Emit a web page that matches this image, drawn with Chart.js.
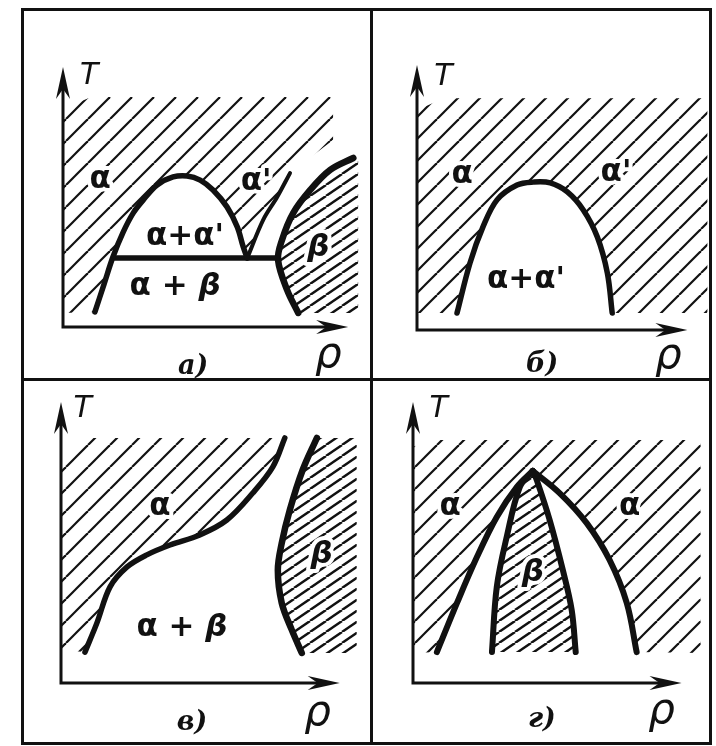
<!DOCTYPE html>
<html>
<head>
<meta charset="utf-8">
<script src="https://cdn.jsdelivr.net/npm/chart.js@4.4.1/dist/chart.umd.min.js"></script>
<style>
  body { margin: 0; background: #fff; }
  #sheet { position: relative; width: 716px; height: 746px; overflow: hidden; }
  #sheet canvas { position: absolute; }
  .frame { position: absolute; border: 3px solid #111; box-sizing: border-box; }
  .rule { position: absolute; background: #111; }
</style>
</head>
<body>
<div id="sheet">
  <canvas id="pa" width="349" height="370" style="left:22px;top:9px"></canvas>
  <canvas id="pb" width="339" height="370" style="left:371px;top:9px"></canvas>
  <canvas id="pc" width="349" height="364" style="left:22px;top:379px"></canvas>
  <canvas id="pd" width="339" height="364" style="left:371px;top:379px"></canvas>
  <div class="frame" style="left:21px;top:8px;width:691px;height:737px"></div>
  <div class="rule" style="left:370px;top:8px;width:3px;height:737px"></div>
  <div class="rule" style="left:21px;top:378px;width:691px;height:3px"></div>
</div>
<script>
// ρ runs 0..100 along each arrow, T runs 0..100 up to the arrow tip

// а) dome of α+α′ sitting on the α+β tie line, β on the right
const aDome = [[11.2, 5.8], [14.4, 16.5], [17.5, 26.9], [21.1, 36.5], [24.6, 43.8], [28.1, 48.8], [33.0, 54.6],
  [38.6, 57.7], [43.5, 58.1], [48.1, 56.5], [52.6, 52.7], [57.5, 46.2], [61.1, 38.5], [63.2, 30.8], [64.6, 26.5]];
const aTie = [[18.2, 26.5], [75.1, 26.5]];
const aPrime = [[64.6, 26.5], [70.2, 41.2], [75.1, 50.0], [79.6, 59.2]];
const aBeta = [[82.5, 5.4], [78.6, 14.2], [75.4, 25.8], [76.8, 33.5], [80.7, 43.8], [86.7, 52.7], [93.7, 60.4], [101.8, 65.0]];
const aAlphaEdge = [[0, 5.4], [0, 84], [10, 88.5], [94.7, 88.5], [94.7, 71.9]];
const aBetaEdge = [[103.5, 65.0], [103.5, 5.4]];

// б) plain α+α′ dome
const bDome = [[14.8, 6.4], [19.6, 25.3], [24.4, 38.9], [29.6, 49.1], [37.0, 54.7], [43.0, 55.8], [49.3, 55.5],
  [55.6, 52.1], [61.5, 45.3], [66.7, 35.1], [70.4, 21.5], [72.2, 6.4]];
const bAlphaEdge = [[0, 6.4], [0, 83], [10, 87.5], [107.4, 87.5], [107.4, 6.4]];

// в) α / α+β boundary and the β boundary
const cAlpha = [[8.6, 11.0], [12.9, 21.4], [17.6, 34.2], [23.7, 41.3], [30.8, 45.6], [39.1, 49.1], [49.8, 52.7],
  [59.5, 58.0], [68.8, 67.6], [76.0, 76.9], [80.3, 87.2]];
const cBeta = [[91.8, 87.2], [86.7, 75.8], [82.1, 61.6], [79.2, 49.8], [77.8, 40.2], [79.2, 28.5], [82.8, 18.9], [86.4, 10.7]];
const cAlphaEdge = [[0, 11.7], [0, 78.3], [8, 87.2]];
const cBetaEdge = [[106.1, 10.7], [106.1, 87.2]];

// г) β wedge inside the α+β tent
const dOuterL = [[8.9, 11.0], [16.4, 28.5], [23.8, 44.8], [31.2, 59.1], [38.7, 69.8], [44.6, 75.5]];
const dOuterR = [[44.6, 75.5], [54.6, 67.6], [64.7, 56.9], [73.2, 43.8], [79.6, 28.5], [83.3, 11.0]];
const dInnerL = [[29.4, 11.0], [31.2, 34.2], [34.9, 52.0], [39.8, 69.8], [44.6, 75.5]];
const dInnerR = [[44.6, 75.5], [46.1, 72.2], [50.9, 58.0], [55.8, 40.2], [59.1, 26.0], [60.6, 11.0]];
const dAlphaEdge = [[0, 10.7], [0, 84], [6, 86.5], [107.1, 86.5], [107.1, 10.7]];

// text on each panel: [text, ρ, T, kind]
const aText = [['T', 9.2, 96.5, 'axis'], ['α', 13.0, 56.5, 'phase'], ["α'", 67.7, 55.8, 'phase'],
  ["α+α'", 42.8, 34.6, 'phase'], ['α + β', 39.3, 15.4, 'phase'], ['β', 89.5, 30.4, 'phase'],
  ['а)', 45.6, -15.4, 'tag'], ['ρ', 93.0, -11.0, 'rho']];
const bText = [['T', 9.8, 95.3, 'axis'], ['α', 16.7, 58.5, 'phase'], ["α'", 73.6, 59.2, 'phase'],
  ["α+α'", 40.3, 18.9, 'phase'], ['б)', 46.3, -13.2, 'tag'], ['ρ', 93.0, -10.4, 'rho']];
const cText = [['T', 7.8, 97.5, 'axis'], ['α', 35.5, 62.6, 'phase'], ['α + β', 43.4, 19.6, 'phase'],
  ['β', 93.5, 45.6, 'phase'], ['в)', 47.0, -14.2, 'tag'], ['ρ', 92.1, -11.2, 'rho']];
const dText = [['T', 9.6, 97.5, 'axis'], ['α', 13.8, 62.6, 'phase'], ['α', 80.7, 62.6, 'phase'],
  ['β', 44.6, 39.1, 'phase'], ['г)', 48.0, -13.2, 'tag'], ['ρ', 92.6, -10.2, 'rho']];

const INK = '#111';

function hatch(w, h, lw) {
  const c = document.createElement('canvas');
  c.width = w; c.height = h;
  const g = c.getContext('2d');
  g.strokeStyle = INK;
  g.lineWidth = lw;
  for (const dx of [-w, 0, w]) {
    g.beginPath();
    g.moveTo(dx, h);
    g.lineTo(dx + w, 0);
    g.stroke();
  }
  return g.createPattern(c, 'repeat');
}
const wide = hatch(22, 22, 2.2);
const dense = hatch(16, 11, 2.4);

const pts = arr => arr.map(([x, y]) => ({x, y}));
const rev = arr => arr.slice().reverse();

function region(arr, pattern) {
  return { data: pts(arr), showLine: true, fill: 'shape', backgroundColor: pattern,
    borderColor: 'rgba(0,0,0,0)', borderWidth: 1, tension: 0, pointRadius: 0, order: 2 };
}
function curve(arr, w) {
  return { data: pts(arr), showLine: true, fill: false, borderColor: INK, borderWidth: w || 5.5,
    borderCapStyle: 'round', borderJoinStyle: 'round', tension: 0.35, pointRadius: 0, order: 1, clip: false };
}

function arrowHead(ctx, tx, ty, dx, dy) {
  const L = 32, W = 7, N = 22;
  ctx.beginPath();
  ctx.moveTo(tx, ty);
  ctx.lineTo(tx - dx * L - dy * W, ty - dy * L + dx * W);
  ctx.lineTo(tx - dx * N, ty - dy * N);
  ctx.lineTo(tx - dx * L + dy * W, ty - dy * L - dx * W);
  ctx.closePath();
  ctx.fill();
}

// T and ρ axes with arrows
const axesPlugin = {
  id: 'arrows',
  afterDatasetsDraw(chart) {
    const {ctx, scales: {x, y}} = chart;
    const ox = x.getPixelForValue(0), oy = y.getPixelForValue(0);
    const ex = x.getPixelForValue(100), ty = y.getPixelForValue(100);
    ctx.save();
    ctx.strokeStyle = INK;
    ctx.fillStyle = INK;
    ctx.lineWidth = 3;
    ctx.lineCap = 'square';
    ctx.beginPath();
    ctx.moveTo(ox, ty + 20);
    ctx.lineTo(ox, oy);
    ctx.lineTo(ex - 20, oy);
    ctx.stroke();
    arrowHead(ctx, ox, ty, 0, -1);
    arrowHead(ctx, ex, oy, 1, 0);
    ctx.restore();
  }
};

const fonts = {
  phase: 'bold 31px "DejaVu Sans"',
  beta: 'bold italic 31px "DejaVu Sans"',
  axis: 'italic 30px "DejaVu Sans"',
  rho: 'italic 42px "DejaVu Sans"',
  tag: 'bold italic 27px "DejaVu Serif"'
};

// phase names are drawn glyph by glyph so that β leans and α stands upright
function phaseText(ctx, t, cx, cy) {
  const runs = [...t].map(ch => ({ch, font: ch === 'β' ? fonts.beta : fonts.phase}));
  let total = 0;
  for (const r of runs) {
    ctx.font = r.font;
    r.w = ctx.measureText(r.ch).width;
    total += r.w;
  }
  let px = cx - total / 2;
  ctx.textAlign = 'left';
  for (const r of runs) {
    ctx.font = r.font;
    ctx.strokeText(r.ch, px, cy);
    px += r.w;
  }
  px = cx - total / 2;
  for (const r of runs) {
    ctx.font = r.font;
    ctx.fillText(r.ch, px, cy);
    px += r.w;
  }
}

const textPlugin = {
  id: 'words',
  afterDraw(chart, args, opts) {
    const {ctx, scales: {x, y}} = chart;
    ctx.save();
    ctx.textBaseline = 'middle';
    ctx.fillStyle = INK;
    ctx.strokeStyle = '#fff';
    ctx.lineWidth = 8;
    ctx.lineJoin = 'round';
    for (const [t, u, v, kind] of opts.items) {
      const px = x.getPixelForValue(u), py = y.getPixelForValue(v);
      if (kind === 'phase') {
        phaseText(ctx, t, px, py);
      } else {
        ctx.textAlign = 'center';
        ctx.font = fonts[kind];
        ctx.fillText(t, px, py);
      }
    }
    ctx.restore();
  }
};

function panel(id, padding, datasets, items) {
  new Chart(document.getElementById(id), {
    type: 'scatter',
    data: { datasets },
    options: {
      responsive: false,
      animation: false,
      events: [],
      layout: { padding },
      scales: {
        x: { type: 'linear', min: 0, max: 108, display: false },
        y: { type: 'linear', min: 0, max: 100, display: false }
      },
      plugins: { legend: { display: false }, tooltip: { enabled: false }, words: { items } }
    },
    plugins: [axesPlugin, textPlugin]
  });
}

panel('pa', {left: 41, right: 0, top: 58, bottom: 52}, [
  region([...aAlphaEdge, ...rev(aPrime), ...rev(aDome).slice(1)], wide),
  region([...aBeta, ...aBetaEdge], dense),
  curve(aDome), curve(aTie), curve(aPrime, 4), curve(aBeta, 6.5)
], aText);

panel('pb', {left: 46, right: 1, top: 56, bottom: 49}, [
  region([...bAlphaEdge, ...rev(bDome)], wide),
  curve(bDome)
], bText);

panel('pc', {left: 39, right: 9, top: 23, bottom: 60}, [
  region([...cAlphaEdge, ...rev(cAlpha)], wide),
  region([...cBeta, ...cBetaEdge], dense),
  curve(cAlpha), curve(cBeta, 6.5)
], cText);

panel('pd', {left: 42, right: 7, top: 23, bottom: 60}, [
  region([...dAlphaEdge, ...rev(dOuterR), ...rev(dOuterL).slice(1)], wide),
  region([...dInnerL, ...dInnerR.slice(1)], dense),
  curve(dOuterL, 6), curve(dOuterR, 6), curve(dInnerL, 6), curve(dInnerR, 6)
], dText);
</script>
</body>
</html>
